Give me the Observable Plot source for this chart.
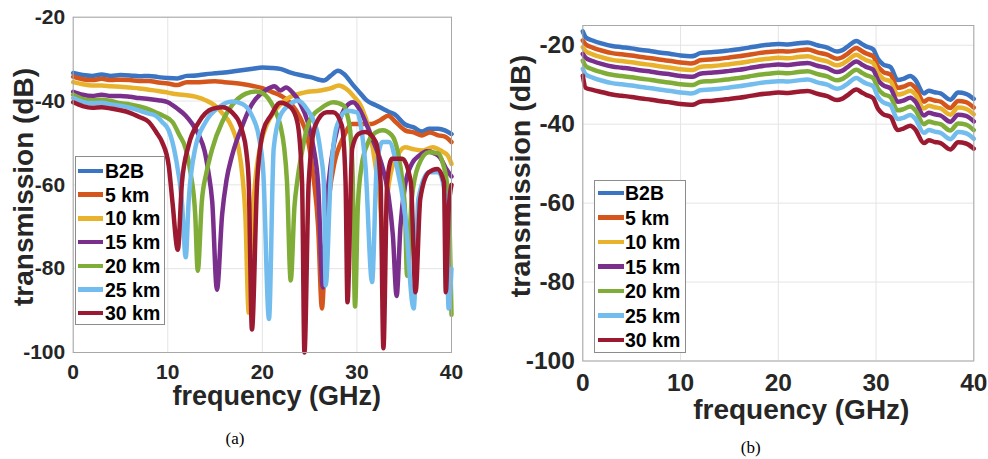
<!DOCTYPE html>
<html>
<head>
<meta charset="utf-8">
<script src="https://cdn.jsdelivr.net/npm/d3@7"></script>
<script src="https://cdn.jsdelivr.net/npm/@observablehq/plot@0.6"></script>
<style>
  html, body { margin: 0; padding: 0; background: #fff; }
  #wrap { position: relative; width: 988px; height: 459px; background: #fff; overflow: hidden; }
  .pane { position: absolute; top: 0; }
  .ttl { position: absolute; font-family: "Liberation Sans", Arial, sans-serif; font-weight: bold; color: #262626; line-height: 0.6; white-space: nowrap; }
  .cap { position: absolute; font-family: "Liberation Serif", "Times New Roman", serif; font-size: 17px; color: #000; line-height: 1; white-space: nowrap; transform: translate(-50%, -50%); }
  .leg { position: absolute; box-sizing: border-box; border: 1px solid #8c8c8c; background: #fff; }
  .leg .sw { position: absolute; height: 4.5px; }
  .leg .lb { position: absolute; font-family: "Liberation Sans", Arial, sans-serif; font-weight: bold; font-size: 19.5px; line-height: 20px; height: 20px; color: #000; white-space: nowrap; }
</style>
</head>
<body>
<div id="wrap">
  <div id="pa" class="pane" style="left:0px"></div>
  <div id="pb" class="pane" style="left:494px"></div>
</div>
<script>
// ---------- series names, colours, ticks ----------
const seriesNames = ["B2B", "5 km", "10 km", "15 km", "20 km", "25 km", "30 km"];
const seriesColors = ["#3a74c2", "#d4561d", "#e9b22c", "#7b2f8c", "#7fad38", "#72bdee", "#9c1a31"];
const xTicks = [0, 10, 20, 30, 40];
const yTicks = [-100, -80, -60, -40, -20];

// ---------- panel (a): [frequency GHz, transmission dB] ----------
const a_B2B = [[0,-33.3],[1,-33.8],[2,-34],[3,-33.7],[4,-34],[5,-33.8],[6,-33.9],[7,-34.1],[8,-34],[9,-34.3],[10,-34.5],[11,-34.6],[12,-34],[13,-33.9],[14,-33.6],[15,-33.4],[16,-33.2],[17,-32.9],[18,-32.6],[19,-32.3],[20,-32],[21,-32.1],[22,-32.4],[23,-33.2],[24,-33.8],[25.1,-34.3],[26.5,-35.1],[27.2,-34],[28,-32.8],[28.6,-33.5],[29.6,-36.2],[30.3,-38],[31,-39.8],[32,-41],[33.3,-42.5],[34,-43.2],[35.1,-45.6],[36,-46.3],[36.9,-47.3],[37.6,-46.6],[38.6,-46.6],[39.3,-47],[40,-47.9]];
const a_5km = [[0,-34.2],[1,-34.8],[2,-35],[3,-34.7],[4,-35],[5,-34.9],[6,-35],[7,-35.2],[8,-35.2],[9,-35.6],[10,-35.8],[11,-36.2],[12,-35.5],[13,-35.5],[14,-35.4],[15,-35.3],[16,-35.5],[17,-35.7],[18,-36],[19,-36.4],[20,-36.9],[21,-37.8],[22,-38.8],[23,-40.5],[24,-44],[24.8,-49],[25.4,-58],[25.9,-70],[26.3,-89.5],[26.7,-72],[27.1,-62],[27.6,-55],[28.6,-48.5],[29.5,-45.5],[30.5,-45.5],[31.5,-45.5],[32.5,-44.5],[33.3,-43.5],[34.1,-45],[35.1,-47],[36,-47.5],[36.9,-48.2],[37.7,-47.5],[38.6,-48.2],[39.3,-48.5],[40,-49.8]];
const a_10km = [[0,-35.5],[1,-36],[2,-36.3],[3,-36.3],[4,-36.5],[5,-36.6],[6,-36.8],[7,-37],[8,-37.3],[9,-37.6],[10,-38],[11,-38.4],[12,-38.6],[13,-39],[14,-39.8],[15,-41.1],[15.8,-43],[16.5,-45],[17,-47.5],[17.5,-51.4],[17.9,-58],[18.2,-67],[18.56,-90.5],[18.9,-70],[19.3,-58],[19.8,-50.5],[20.5,-45.5],[21.2,-42.7],[22.6,-39.5],[24.4,-38],[26.1,-37.5],[27.2,-37],[28.1,-36.3],[28.8,-37],[29.7,-39],[30.5,-41.5],[31.3,-47],[32,-56],[32.5,-66],[32.8,-80],[33.1,-66],[33.6,-57],[34.4,-52.5],[35.1,-51],[36,-51.5],[37,-51.8],[38,-51],[39,-52],[39.6,-53],[40,-55]];
const a_15km = [[0,-37.8],[1,-38.5],[2,-38.8],[3,-38.5],[4,-38.8],[5,-38.8],[6,-39],[7,-39.3],[8,-39.5],[9,-39.8],[10,-40.3],[11,-41.8],[11.9,-43.5],[12.6,-45.5],[13.3,-48.2],[13.9,-52],[14.3,-57],[14.7,-64],[15.2,-85],[15.75,-67],[16.2,-59],[16.8,-53],[17.9,-45.8],[18.6,-42],[19.3,-39.5],[20.3,-37.5],[21.3,-36.5],[21.9,-37.5],[22.5,-36.8],[23.2,-38],[24,-40.5],[24.8,-45],[25.4,-51],[25.9,-60],[26.4,-84.5],[26.8,-65],[27.3,-54],[28,-46],[28.8,-41.5],[29.6,-40.3],[30.4,-42.5],[31,-45.5],[31.8,-50],[32.6,-55],[33.3,-62],[33.8,-72],[34.2,-86.5],[34.6,-70],[35.1,-60],[35.8,-55],[36.6,-53],[37.4,-52],[38.2,-52.5],[38.8,-53.5],[39.4,-56],[40,-58]];
const a_20km = [[0,-38.5],[1,-39.5],[2,-39.8],[3,-39.7],[4,-40],[5,-40.5],[6,-40.8],[7,-41.3],[8,-42],[8.7,-42.7],[9.5,-43.5],[10.5,-45],[11.2,-48],[11.9,-51.4],[12.4,-57],[12.9,-67],[13.17,-80.5],[13.6,-64],[14.1,-57],[14.7,-51.4],[15.75,-45],[16.8,-41],[18.2,-38.3],[19.3,-37.7],[19.8,-37.9],[20.9,-40.3],[21.4,-42.5],[21.9,-45.8],[22.3,-51],[22.6,-59],[23,-82.8],[23.4,-65],[23.7,-59],[24.2,-52],[24.7,-46.6],[25.3,-43.5],[26.1,-41.9],[27.5,-40.3],[28.6,-41.1],[29,-43.5],[29.3,-47.4],[29.55,-58],[29.8,-89],[30.1,-65],[30.5,-55.4],[31.2,-49.8],[32,-47.5],[32.7,-47],[33.7,-48.2],[34.4,-53],[34.8,-59],[35.1,-67],[35.3,-81.7],[35.8,-63.3],[36.5,-55.4],[37.6,-52.2],[38.6,-52.5],[39.1,-55],[39.5,-59.4],[39.8,-70],[40,-91]];
const a_25km = [[0,-39.3],[1,-40.2],[2,-40.5],[3,-40.4],[4,-40.8],[5,-41.1],[6,-41.6],[7,-42.3],[8,-43],[8.7,-43.5],[9.4,-45],[10.1,-47],[10.8,-53],[11.5,-64.2],[11.9,-77.3],[12.2,-64.2],[12.9,-51.3],[14,-45],[15.4,-41.5],[16.8,-40.1],[17.9,-40.7],[18.9,-43.5],[19.6,-48.2],[20.1,-57],[20.7,-92],[21.2,-51.3],[21.9,-43.5],[23,-40.7],[23.7,-39.9],[24.7,-41.9],[25.8,-47.4],[26.2,-53],[26.5,-59.4],[26.7,-84],[27.2,-59.4],[27.9,-45.8],[29,-42.3],[30,-42.7],[30.4,-45.8],[30.9,-55.4],[31.6,-83.2],[32.1,-55.4],[32.7,-49.8],[33.4,-49.8],[34.2,-55.4],[35.1,-67.3],[36,-89.5],[36.5,-63.3],[37.6,-57],[38.6,-57],[39.4,-63.3],[39.7,-89.5],[40,-80]];
const a_30km = [[0,-40.3],[1,-41.2],[2,-41.6],[3,-41.5],[4,-41.8],[5,-42.2],[6,-42.8],[7,-43.8],[8,-45],[8.8,-47.5],[9.4,-49.8],[10.1,-55.4],[10.5,-64.2],[11.06,-75.5],[11.5,-59.4],[12.2,-50.6],[13.3,-45],[14.7,-41.9],[15.75,-41.5],[16.8,-42.7],[17.9,-47.4],[18.3,-52],[18.56,-59.4],[18.9,-94.5],[19.45,-59.4],[20.1,-47],[20.9,-43.5],[21.9,-40.4],[23,-41.5],[23.7,-45],[24.2,-59.4],[24.45,-100],[24.9,-59.4],[25.6,-45.8],[26.8,-42.7],[27.5,-42.7],[28.4,-45.8],[28.8,-59.4],[29,-88],[29.5,-51.3],[30.2,-47.8],[30.9,-47.4],[32,-49.8],[32.5,-59.4],[32.8,-99],[33.2,-59.4],[33.7,-53.8],[34.8,-53.8],[35.7,-59.4],[36.2,-85.6],[36.7,-63.3],[37.6,-57],[38.5,-56.2],[39.2,-59.4],[39.4,-85.6],[39.7,-66],[40,-60]];

// ---------- panel (b): shared frequency grid + values per series ----------
const b_freq = [0,0.3,1,2,3,4,5,6,7,8,9,10,11,11.5,12,13,14,15,16,17,18,19,20,21,22,23,24,25,26,26.5,27,28,28.5,29,29.7,30.2,30.7,31.5,32.2,32.8,33.5,34,34.9,35.4,36,36.6,37.6,38.4,39.2,40];
const b_B2B  = [-16.5,-18,-18.8,-19.6,-20.2,-20.5,-20.8,-21.2,-21.5,-21.9,-22.2,-22.6,-22.8,-22.6,-22,-21.8,-21.6,-21.3,-21,-20.6,-20.2,-19.9,-19.7,-19.8,-19.5,-19.3,-20,-20.6,-21.6,-21.3,-20.5,-18.9,-19.6,-20.3,-21,-23.5,-24.8,-25.6,-28.8,-28.5,-27.8,-28.7,-32.2,-31.5,-31.9,-32.2,-33.8,-32,-32.3,-33.6];
const b_5km  = [-18.8,-19.8,-20.6,-21.4,-22,-22.3,-22.6,-23,-23.3,-23.7,-24,-24.4,-24.6,-24.4,-23.8,-23.6,-23.4,-23.1,-22.8,-22.4,-22,-21.7,-21.5,-21.6,-21.3,-21.1,-21.8,-22.4,-23.4,-23.1,-22.3,-20.7,-21.4,-22.1,-22.8,-25.4,-26.7,-27.5,-30.8,-30.5,-29.8,-30.7,-34.3,-33.6,-34,-34.3,-35.9,-34.1,-34.4,-35.8];
const b_10km = [-20.5,-21.5,-22.3,-23.1,-23.7,-24,-24.3,-24.7,-25,-25.4,-25.7,-26.1,-26.3,-26.1,-25.5,-25.3,-25.1,-24.8,-24.5,-24.1,-23.7,-23.4,-23.2,-23.3,-23,-22.8,-23.5,-24.1,-25.1,-24.8,-24,-22.4,-23.1,-23.8,-24.5,-27.1,-28.4,-29.2,-32.5,-32.2,-31.5,-32.4,-36,-35.3,-35.7,-36,-37.6,-35.8,-36.1,-37.5];
const b_15km = [-22.2,-23.2,-24,-24.8,-25.4,-25.7,-26,-26.4,-26.7,-27.1,-27.4,-27.8,-28,-27.8,-27.2,-27,-26.8,-26.5,-26.2,-25.8,-25.4,-25.1,-24.9,-25,-24.7,-24.5,-25.2,-25.8,-26.8,-26.5,-25.7,-24.1,-24.8,-25.5,-26.2,-28.8,-30.1,-31,-34.3,-34,-33.3,-34.2,-37.8,-37.1,-37.5,-37.8,-39.4,-37.6,-37.9,-39.3];
const b_20km = [-23.9,-25.3,-26.1,-26.9,-27.5,-27.8,-28.1,-28.5,-28.8,-29.2,-29.5,-29.9,-30.1,-29.9,-29.3,-29.1,-28.9,-28.6,-28.3,-27.9,-27.5,-27.2,-27,-27.1,-26.8,-26.6,-27.3,-27.9,-28.9,-28.6,-27.8,-26.2,-26.9,-27.6,-28.3,-31,-32.3,-33.2,-36.5,-36.2,-35.5,-36.4,-40,-39.3,-39.7,-40,-41.6,-39.8,-40.1,-41.5];
const b_25km = [-26,-27.4,-28.2,-29,-29.6,-29.9,-30.2,-30.6,-30.9,-31.3,-31.6,-32,-32.2,-32,-31.4,-31.2,-31,-30.7,-30.4,-30,-29.6,-29.3,-29.1,-29.2,-28.9,-28.7,-29.4,-30,-31,-30.7,-29.9,-28.3,-29,-29.7,-30.4,-33.1,-34.4,-35.3,-38.7,-38.4,-37.7,-38.6,-42.2,-41.5,-41.9,-42.2,-43.8,-42,-42.3,-43.7];
const b_30km = [-27.7,-30.8,-31.3,-31.9,-32.5,-32.8,-33.1,-33.5,-33.8,-34.2,-34.5,-34.9,-35.1,-34.9,-34.3,-34.1,-33.9,-33.6,-33.3,-32.9,-32.5,-32.2,-32,-32.1,-31.8,-31.6,-32.3,-32.9,-33.9,-33.6,-32.8,-31.2,-31.9,-32.6,-33.4,-36.1,-37.4,-38.2,-41.5,-41.1,-40.4,-41.3,-44.8,-44.1,-44.5,-44.8,-46.4,-44.6,-44.9,-46.2];

// ---------- build tidy tables ----------
const aSeries = [a_B2B, a_5km, a_10km, a_15km, a_20km, a_25km, a_30km];
const bSeries = [b_B2B, b_5km, b_10km, b_15km, b_20km, b_25km, b_30km];
const dataA = aSeries.flatMap((arr, i) => arr.map(([f, v]) => ({f, v, s: seriesNames[i]})));
const dataB = bSeries.flatMap((arr, i) => arr.map((v, j) => ({f: b_freq[j], v, s: seriesNames[i]})));

function panel(data, o) {
  return Plot.plot({
    width: 494, height: 459,
    marginLeft: o.ml, marginRight: o.mr, marginTop: o.mt, marginBottom: o.mb,
    x: {domain: [0, 40], label: null},
    y: {domain: o.ydom, label: null},
    color: {domain: seriesNames, range: seriesColors},
    style: {fontFamily: "'Liberation Sans', Arial, sans-serif", fontSize: o.fs + "px", fontWeight: "bold", color: "#262626", background: "transparent", overflow: "visible"},
    marks: [
      Plot.gridX(xTicks, {stroke: "#e4e4e4", strokeOpacity: 1, strokeWidth: 1}),
      Plot.gridY(yTicks, {stroke: "#e4e4e4", strokeOpacity: 1, strokeWidth: 1}),
      Plot.line(data, {x: "f", y: "v", z: "s", stroke: "s", strokeWidth: 4.5, curve: "monotone-x", strokeLinejoin: "round", strokeLinecap: "round"}),
      Plot.frame({stroke: "#a8a8a8", strokeWidth: 1}),
      Plot.axisX({ticks: xTicks, tickSize: 0, tickPadding: o.xpad, tickFormat: d => String(d), label: null}),
      Plot.axisY({ticks: yTicks, tickSize: 0, tickPadding: o.ypad, tickFormat: d => String(d), label: null})
    ]
  });
}

document.getElementById("pa").append(panel(dataA, {ml: 72.7, mr: 43, mt: 16.7, mb: 107, ydom: [-100, -20], fs: 21, xpad: 12, ypad: 8}));
document.getElementById("pb").append(panel(dataB, {ml: 88.3, mr: 14.7, mt: 25, mb: 98.5, ydom: [-100, -15], fs: 24.5, xpad: 13, ypad: 8}));

const wrap = document.getElementById("wrap");
function addTitle(text, cx, cy, size, rot) {
  const d = document.createElement("div");
  d.className = "ttl";
  d.textContent = text;
  d.style.fontSize = size + "px";
  d.style.left = cx + "px";
  d.style.top = cy + "px";
  d.style.transform = "translate(-50%, -50%)" + (rot ? " rotate(" + rot + "deg)" : "");
  wrap.append(d);
}
addTitle("frequency (GHz)", 276.7, 396, 27, 0);
addTitle("transmission (dB)", 23.6, 186.5, 28, -90);
addTitle("frequency (GHz)", 801.3, 409.5, 28, 0);
addTitle("transmission (dB)", 520.8, 176, 28.5, -90);

function addCaption(text, cx, cy) {
  const d = document.createElement("div");
  d.className = "cap";
  d.textContent = text;
  d.style.left = cx + "px";
  d.style.top = cy + "px";
  wrap.append(d);
}
addCaption("(a)", 235, 438);
addCaption("(b)", 750.7, 447);

function addLegend(left, top, w, h, firstRow, step, swLeft, swW, txtLeft) {
  const box = document.createElement("div");
  box.className = "leg";
  Object.assign(box.style, {left: left + "px", top: top + "px", width: w + "px", height: h + "px"});
  seriesNames.forEach((name, i) => {
    const cy = firstRow + i * step;
    const sw = document.createElement("div");
    sw.className = "sw";
    Object.assign(sw.style, {left: swLeft + "px", width: swW + "px", top: (cy - 2.25 - 1) + "px", background: seriesColors[i]});
    const lb = document.createElement("div");
    lb.className = "lb";
    lb.textContent = name;
    Object.assign(lb.style, {left: txtLeft + "px", top: (cy - 10 - 1) + "px"});
    box.append(sw, lb);
  });
  wrap.append(box);
}
addLegend(75, 156, 90, 169, 15, 23.7, 2, 25, 29);
addLegend(594, 180, 92, 173, 13, 24.5, 2.5, 26, 30);
</script>
</body>
</html>
